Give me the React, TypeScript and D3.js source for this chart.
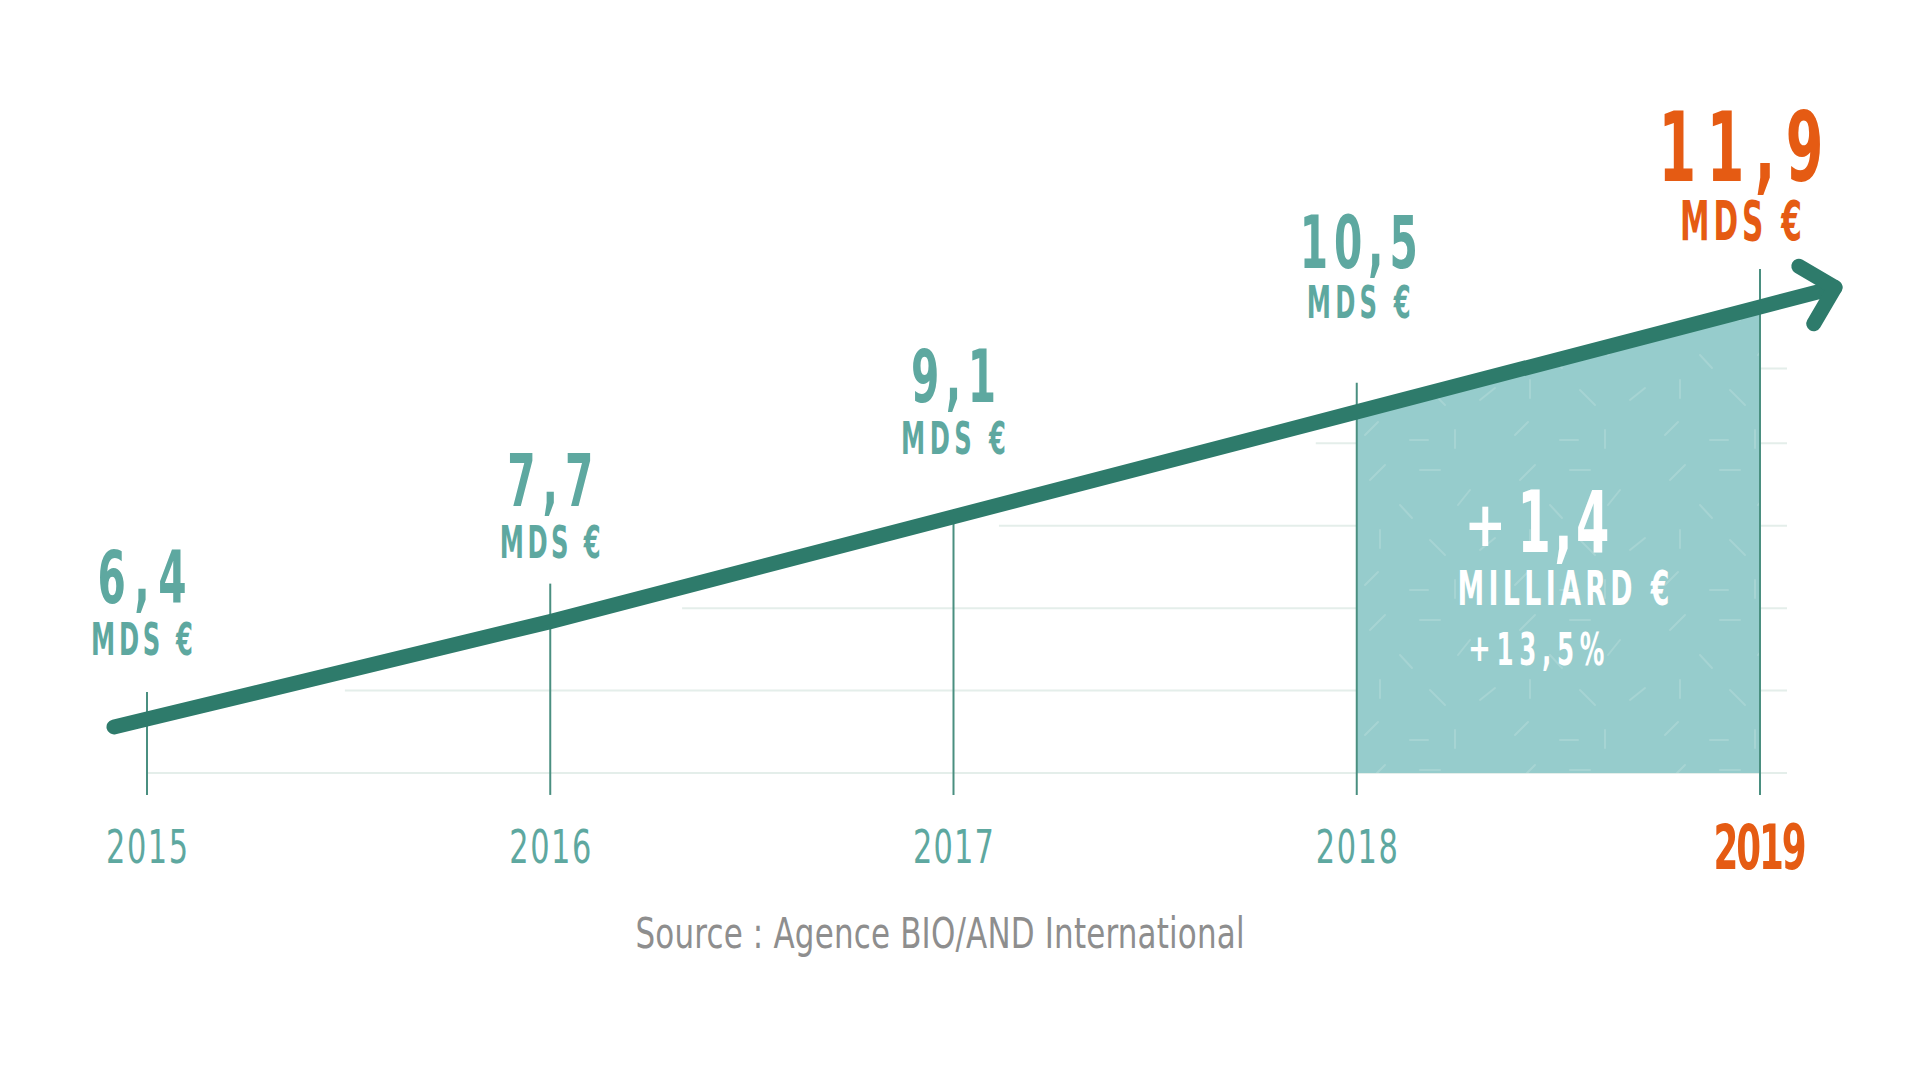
import React from "react";
import * as d3 from "d3";

// ---- data ----
const years = [2015, 2016, 2017, 2018, 2019];
const values = [6.4, 7.7, 9.1, 10.5, 11.9];
const valueLabels = ["6,4", "7,7", "9,1", "10,5", "11,9"];
const unitLabel = "MDS €";
const gridValues = [5.68, 6.78, 7.88, 8.98, 10.08, 11.08];
const highlightDelta = "1,4";
const highlightUnit = "MILLIARD €";
const highlightPct = "13,5%";
const sourceText = "Source : Agence BIO/AND International";

// ---- layout / style constants ----
const W = 1920;
const H = 1080;
const FONT = "'DejaVu Sans Condensed', 'Liberation Sans Narrow', 'DejaVu Sans', sans-serif";
const TEAL_TEXT = "#5ea8a0";
const LINE = "#2e7b6b";
const TICK = "#4a8f80";
const ORANGE = "#e55b13";
const FILL = "#96cccc";
const GRID = "#e4eeea";
const SOURCE = "#8e8e8e";

const labelLift = [64, 64, 63, 94, 67];
const labelDx = [-5, 0, 0, 2, -19];
const numberWidths = [89, 86, 85, 118, 165];
const unitWidths = [102, 101, 105, 104, 122];
const yearWidths = [82, 82, 81, 82, 93];
const tickOvershoot = [27, 38, 0, 29, 38];

type CTProps = {
  x: number;
  y: number;
  text: string | number;
  size: number;
  width: number;
  fill: string;
  weight?: string;
  squeeze?: number;
  anchor?: "start" | "middle" | "end";
};

// narrow text: glyphs squeezed horizontally, remaining width becomes letter spacing
function CondText({ x, y, text, size, width, fill, weight = "bold", squeeze = 0.66, anchor = "middle" }: CTProps) {
  return (
    <text
      transform={`translate(${x},${y}) scale(${squeeze},1)`}
      textAnchor={anchor}
      fontSize={size}
      fontWeight={weight}
      fill={fill}
      textLength={width / squeeze}
      lengthAdjust="spacing"
    >
      {text}
    </text>
  );
}

export default function App() {
  const x = d3.scaleLinear().domain([2015, 2019]).range([147, 1760]);
  const y = d3.scaleLinear().domain([6.4, 11.9]).range([719, 307]);
  const baseVal = gridValues[0];
  const baseY = y(baseVal);
  const tickBottom = baseY + 22;
  const gridRight = 1787;
  const last = years.length - 1;

  const pts: [number, number][] = years.map((yr, i) => [x(yr), y(values[i])]);
  const s0 = (pts[1][1] - pts[0][1]) / (pts[1][0] - pts[0][0]);
  const startPt: [number, number] = [pts[0][0] - 33, pts[0][1] - 33 * s0];
  const sN = (pts[last][1] - pts[last - 1][1]) / (pts[last][0] - pts[last - 1][0]);
  const tipX = pts[last][0] + 75;
  const tipPt: [number, number] = [tipX, pts[last][1] + 75 * sN];
  const lineGen = d3.line<[number, number]>();
  const linePath = lineGen([startPt, ...pts, tipPt]) || "";

  const theta = Math.atan2(pts[last][1] - pts[last - 1][1], pts[last][0] - pts[last - 1][0]);
  const armLen = 42;
  const back = theta + Math.PI;
  const a1: [number, number] = [tipPt[0] + armLen * Math.cos(back - Math.PI / 4), tipPt[1] + armLen * Math.sin(back - Math.PI / 4)];
  const a2: [number, number] = [tipPt[0] + armLen * Math.cos(back + Math.PI / 4), tipPt[1] + armLen * Math.sin(back + Math.PI / 4)];
  const arrowPath = lineGen([a1, tipPt, a2]) || "";

  // highlighted area between 2018 and 2019
  const areaGen = d3
    .area<number>()
    .x((i) => x(years[i]))
    .y0(() => baseY)
    .y1((i) => y(values[i]));
  const areaPath = areaGen([last - 1, last]) || "";

  // where the trend line crosses each gridline
  const valToYear = d3.scaleLinear().domain(values).range(years);

  const fillCx = (x(years[last - 1]) + x(years[last])) / 2;

  const dashes = [
    [20, 30, 35, 15], [70, 20, 90, 20], [120, 40, 108, 55], [30, 80, 30, 98], [80, 90, 95, 105],
    [130, 100, 145, 88], [15, 135, 28, 122], [60, 140, 78, 140], [105, 130, 105, 148], [50, 55, 62, 68],
  ];

  return (
    <div style={{ position: "fixed", left: 0, top: 0, width: W, height: H, background: "#fff" }}>
      <svg width={W} height={H} style={{ display: "block" }} fontFamily={FONT}>
        <defs>
          <pattern id="dashes" width={150} height={150} patternUnits="userSpaceOnUse">
            <rect width={150} height={150} fill={FILL} />
            {dashes.map((d, i) => (
              <line key={i} x1={d[0]} y1={d[1]} x2={d[2]} y2={d[3]} stroke="#a6d4d3" strokeWidth={2} strokeLinecap="round" />
            ))}
          </pattern>
        </defs>

        {/* gridlines */}
        {gridValues.map((g, i) => {
          const gy = y(g);
          const cross = i === 0 ? x(years[0]) : Math.max(x(years[0]), x(valToYear(g)) + 80);
          return <line key={i} x1={cross} x2={gridRight} y1={gy} y2={gy} stroke={GRID} strokeWidth={2} />;
        })}

        {/* highlight area */}
        <path d={areaPath} fill="url(#dashes)" />

        {/* year ticks */}
        {years.map((yr, i) => (
          <line
            key={yr}
            x1={x(yr)}
            x2={x(yr)}
            y1={y(values[i]) - tickOvershoot[i]}
            y2={tickBottom}
            stroke={TICK}
            strokeWidth={2}
          />
        ))}

        {/* trend line + arrow */}
        <path d={linePath} fill="none" stroke={LINE} strokeWidth={15} strokeLinecap="round" strokeLinejoin="round" />
        <path d={arrowPath} fill="none" stroke={LINE} strokeWidth={15} strokeLinecap="round" strokeLinejoin="round" />

        {/* value labels */}
        {years.map((yr, i) => {
          const isLast = i === last;
          const color = isLast ? ORANGE : TEAL_TEXT;
          const unitBase = y(values[i]) - labelLift[i];
          const numBase = unitBase - (isLast ? 59 : i === 3 ? 50 : 52);
          const cx = x(yr) + labelDx[i];
          return (
            <g key={yr}>
              <CondText x={cx} y={numBase} text={valueLabels[i]} size={isLast ? 97 : 73} width={numberWidths[i]} fill={color} squeeze={0.62} />
              <CondText x={cx} y={unitBase} text={unitLabel} size={isLast ? 55 : 45} width={unitWidths[i]} fill={color} squeeze={0.6} />
            </g>
          );
        })}

        {/* year axis labels */}
        {years.map((yr, i) => {
          const isLast = i === last;
          return (
            <CondText
              key={yr}
              x={x(yr)}
              y={isLast ? baseY + 96 : baseY + 90}
              text={yr}
              size={isLast ? 62 : 47}
              width={yearWidths[i]}
              fill={isLast ? ORANGE : TEAL_TEXT}
              weight={isLast ? "bold" : "normal"}
              squeeze={isLast ? 0.64 : 0.72}
            />
          );
        })}

        {/* highlight texts */}
        <CondText x={fillCx - 73} y={546} text="+" size={62} width={33} fill="#ffffff" squeeze={0.9} />
        <CondText x={fillCx + 5} y={552} text={highlightDelta} size={86} width={92} fill="#ffffff" squeeze={0.62} />
        <CondText x={fillCx + 5} y={605} text={highlightUnit} size={48} width={212} fill="#ffffff" squeeze={0.62} />
        <CondText x={fillCx - 79} y={661} text="+" size={38} width={16} fill="#ffffff" squeeze={0.8} />
        <CondText x={fillCx - 8} y={665} text={highlightPct} size={44} width={108} fill="#ffffff" squeeze={0.62} />

        {/* source */}
        <CondText x={940} y={948} text={sourceText} size={42} width={609} fill={SOURCE} weight="normal" squeeze={0.82} />
      </svg>
    </div>
  );
}
